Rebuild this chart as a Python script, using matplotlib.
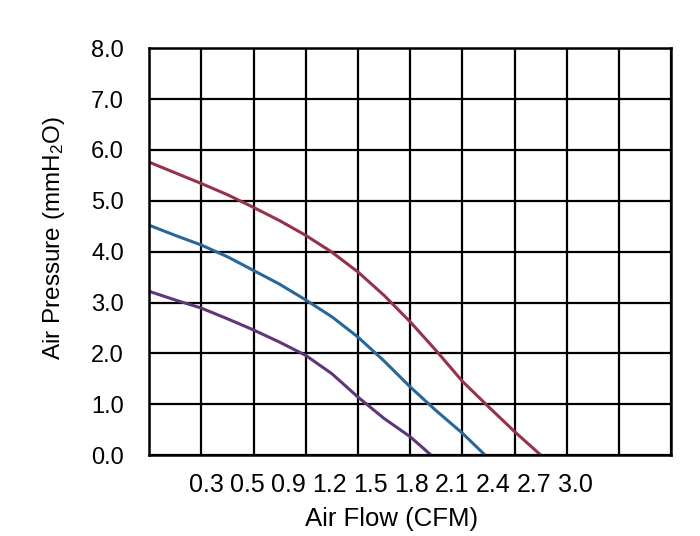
import matplotlib
matplotlib.use("Agg")
import matplotlib.pyplot as plt
import numpy as np

plt.rcParams['font.family'] = ['Liberation Sans', 'DejaVu Sans']
plt.rcParams['mathtext.fontset'] = 'custom'
plt.rcParams['mathtext.rm'] = 'Liberation Sans'
plt.rcParams['mathtext.it'] = 'Liberation Sans:italic'

# curve readings (x in CFM, y in mmH2O)
red_x = [0, 0.15, 0.3, 0.45, 0.6, 0.75, 0.9, 1.05, 1.2, 1.35, 1.5, 1.65, 1.8, 1.95, 2.1, 2.25]
red_y = [5.76, 5.55, 5.34, 5.12, 4.87, 4.61, 4.32, 3.99, 3.60, 3.14, 2.62, 2.05, 1.45, 0.95, 0.46, 0.0]

blue_x = [0, 0.15, 0.3, 0.45, 0.6, 0.75, 0.9, 1.05, 1.2, 1.35, 1.5, 1.65, 1.8, 1.93]
blue_y = [4.52, 4.32, 4.13, 3.90, 3.63, 3.36, 3.05, 2.72, 2.32, 1.85, 1.34, 0.87, 0.43, 0.0]

purple_x = [0, 0.15, 0.3, 0.45, 0.6, 0.75, 0.9, 1.05, 1.2, 1.35, 1.5, 1.62]
purple_y = [3.22, 3.05, 2.89, 2.68, 2.46, 2.22, 1.96, 1.60, 1.14, 0.72, 0.36, 0.0]

x_labels = ['0.3', '0.5', '0.9', '1.2', '1.5', '1.8', '2.1', '2.4', '2.7', '3.0']
y_labels = ['0.0', '1.0', '2.0', '3.0', '4.0', '5.0', '6.0', '7.0', '8.0']

fig = plt.figure(figsize=(7, 5.36), dpi=100)
ax = fig.add_axes([0.213, 0.151, 0.746, 0.759])

ax.plot(red_x, red_y, color='#96324a', lw=2.2)
ax.plot(blue_x, blue_y, color='#27689a', lw=2.2)
ax.plot(purple_x, purple_y, color='#5e3778', lw=2.2)

ax.set_xlim(0, 3.0)
ax.set_ylim(0, 8.0)

# grid every 0.3 CFM / 1 mmH2O
ax.set_xticks(np.arange(0, 3.01, 0.3), minor=True)
ax.set_yticks(np.arange(0, 9, 1))
ax.set_yticklabels(y_labels)
ax.grid(True, which='minor', axis='x', color='black', lw=1.6)
ax.grid(True, which='major', axis='y', color='black', lw=1.6)
ax.set_axisbelow(True)

# x labels are spaced tighter than the grid in the original
ax.set_xticks(np.linspace(0.328, 2.448, len(x_labels)))
ax.set_xticklabels(x_labels)

ax.tick_params(axis='both', which='both', length=0, labelsize=17)
ax.tick_params(axis='x', pad=13, labelsize=18)
ax.tick_params(axis='y', pad=18)
for s in ax.spines.values():
    s.set_linewidth(1.8)

ax.set_xlabel('Air Flow (CFM)', fontsize=18.5)
ax.set_ylabel('Air Pressure (mmH$_2$O)', fontsize=17.5)
ax.xaxis.set_label_coords(0.464, -0.128)
ax.yaxis.set_label_coords(-0.157, 0.533)

fig.savefig('out.png', dpi=100)
